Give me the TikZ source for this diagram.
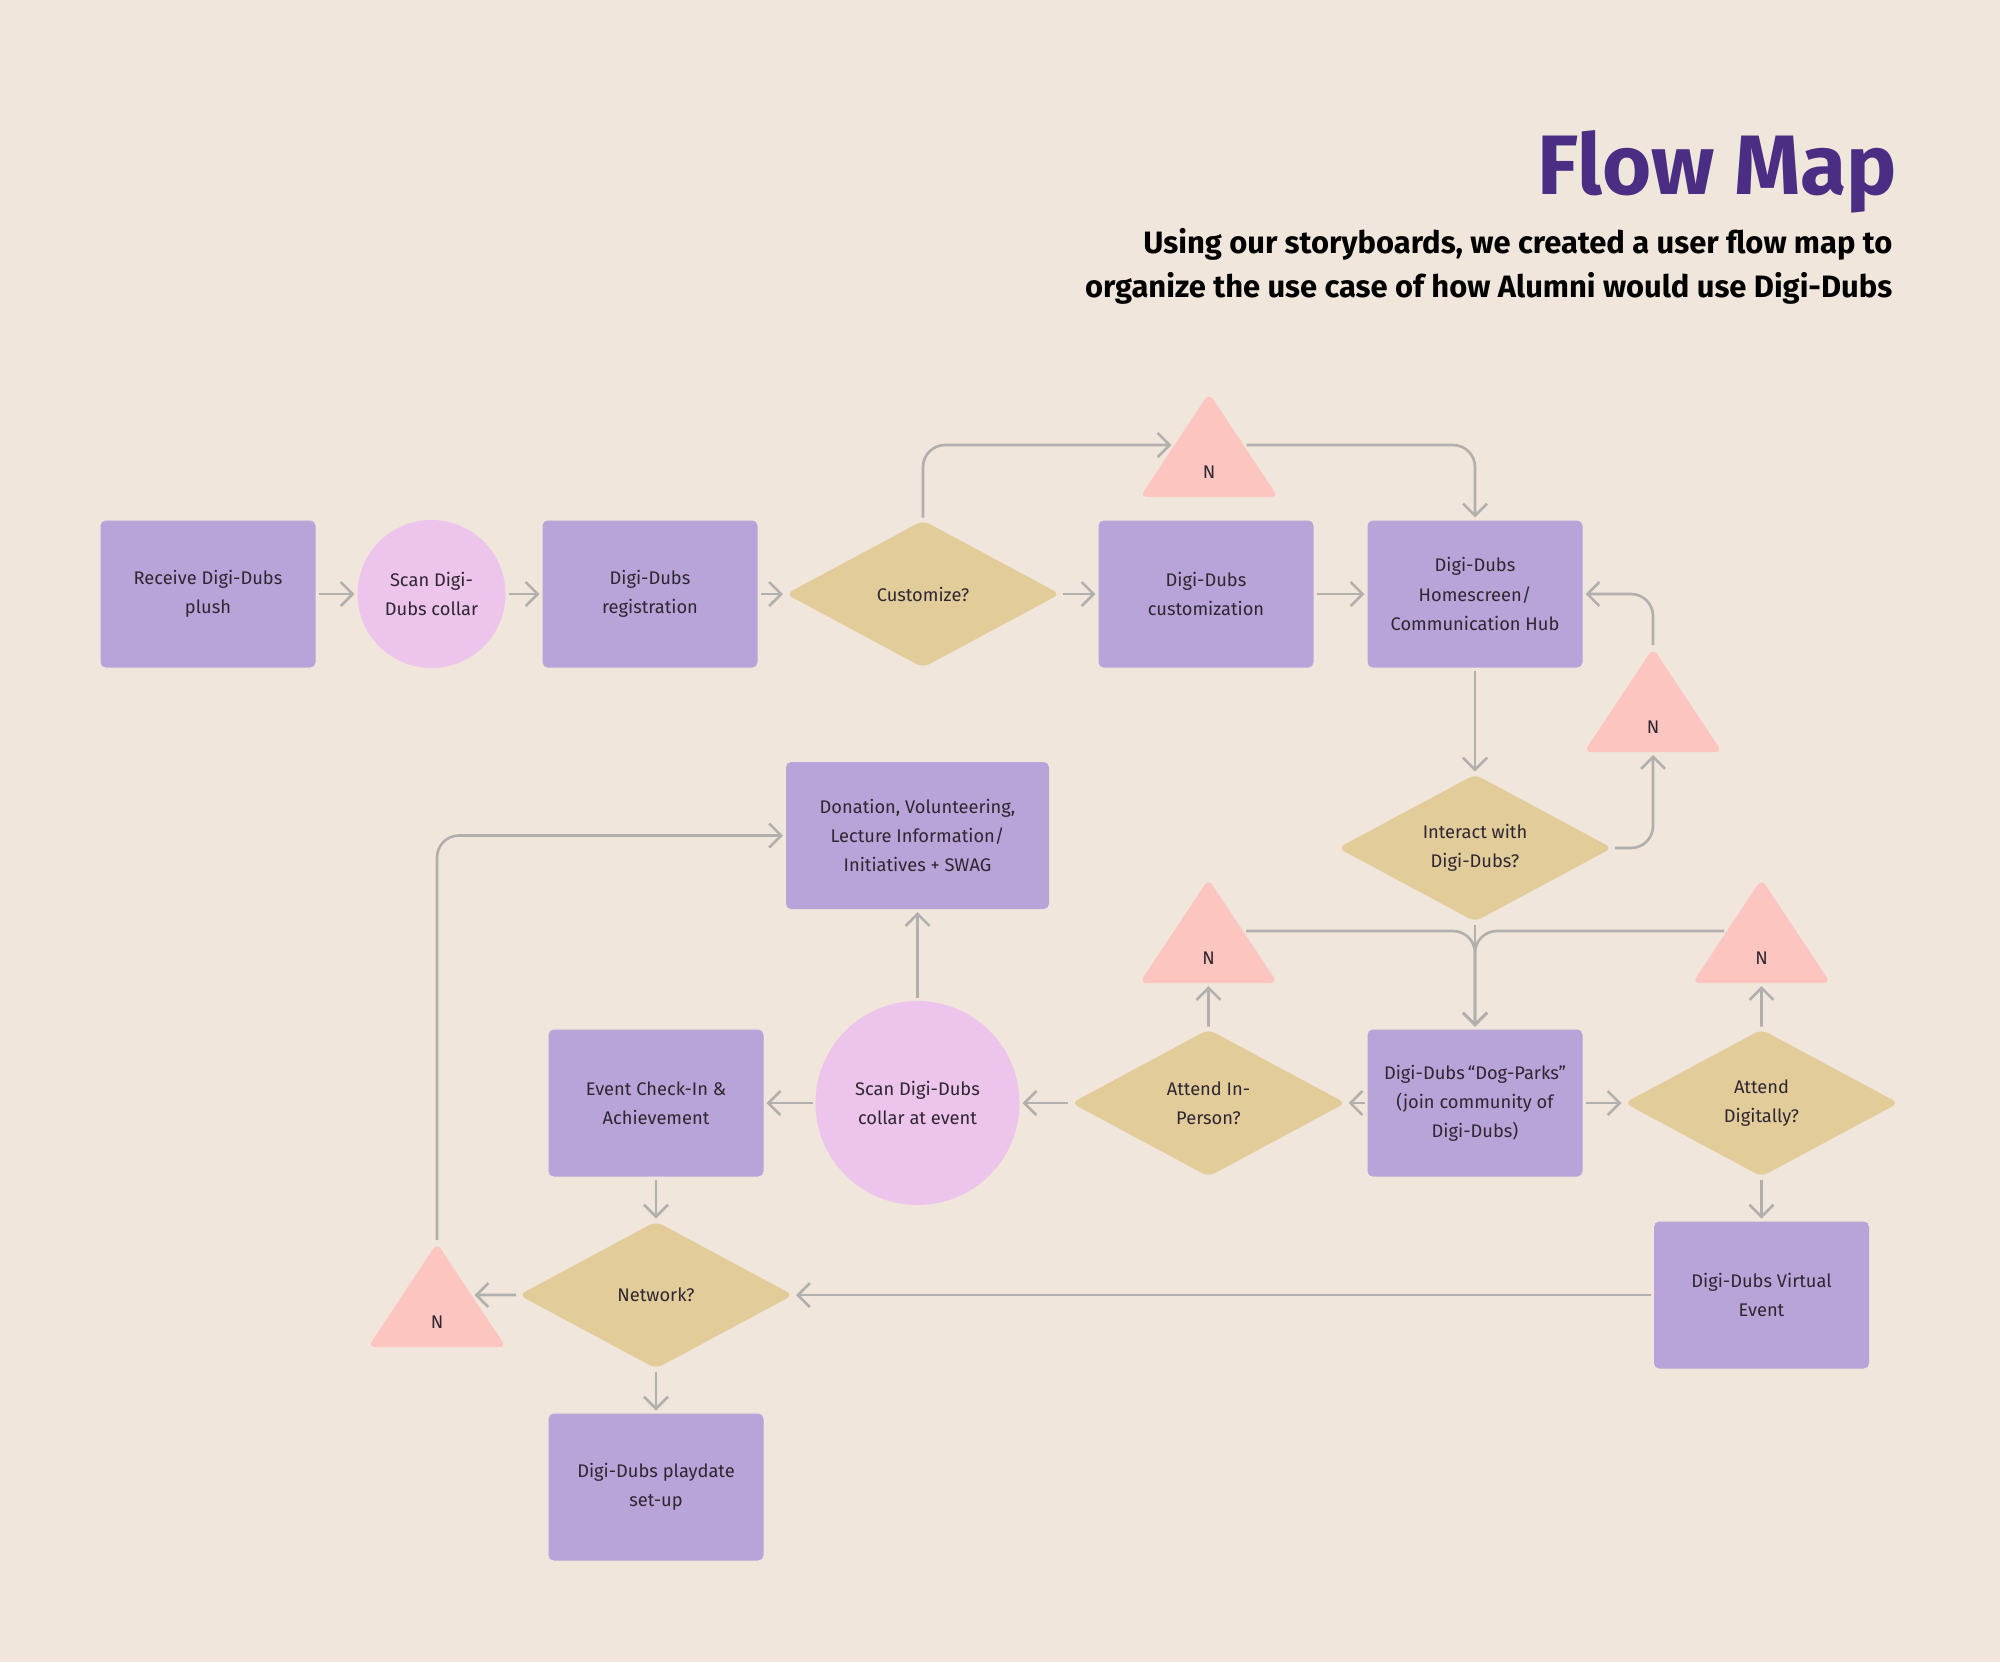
\documentclass[tikz,border=0pt]{standalone}
\usepackage{fontspec}
\setmainfont{Fira Sans}
\usetikzlibrary{shapes.geometric}
\usetikzlibrary{positioning}
\usetikzlibrary{arrows.meta}
\definecolor{paper}{HTML}{F0E6DB}
\definecolor{boxpurple}{HTML}{B8A4D8}
\definecolor{scanpink}{HTML}{ECC4EC}
\definecolor{choicetan}{HTML}{E2CC9A}
\definecolor{nopink}{HTML}{FDC5C0}
\definecolor{titlepurple}{HTML}{4B2D83}
\definecolor{wiregray}{HTML}{B2B0AE}
\definecolor{inkdark}{HTML}{2E2630}
\tikzstyle{nodetext} = [inner sep=0pt, outer sep=0pt, align=center, text=inkdark,
font=\fontsize{5.2}{8.3}\selectfont]
\tikzstyle{procbox} = [nodetext, rectangle, fill=boxpurple, rounded corners=1.5pt,
minimum width=2.15cm, minimum height=1.47cm]
\tikzstyle{scancirc} = [nodetext, circle, fill=scanpink, minimum size=1.48cm]
\tikzstyle{choice} = [nodetext, diamond, aspect=2, fill=choicetan, rounded corners=2pt,
minimum width=2.74cm, minimum height=1.47cm]
\tikzstyle{notri} = [nodetext, isosceles triangle, shape border rotate=90,
isosceles triangle stretches, fill=nopink, rounded corners=2pt,
minimum width=1.38cm, minimum height=1.04cm, text height=0.43cm]
\tikzstyle{flow} = [->, draw=wiregray, line width=0.75pt, rounded corners=0.22cm,
shorten <=0.03cm, shorten >=0.03cm]
\tikzstyle{heading} = [anchor=base east, inner sep=0pt, text=titlepurple,
font=\fontsize{24}{28}\selectfont\bfseries]
\tikzstyle{subheading} = [anchor=base east, inner sep=0pt, text=black,
font=\fontsize{8.8}{11}\selectfont\bfseries]
\tikzset{>={Straight Barb[length=1.2mm,width=2.4mm]}}
\newcommand{\joinflow}[3][]{ %
  % Join every node in #2 to every node in #3.
  \foreach \x in {#2} { %
    \foreach \y in {#3} { %
      \draw [flow,#1] (\x) -- (\y) ;%
    } ;
  } ;
}

\begin{document}
\begin{tikzpicture}
  \fill[paper] (0,0) rectangle (20,-16.62);
  \useasboundingbox (0,0) rectangle (20,-16.62);

  \node[heading] (title) at (18.98,-1.94) {Flow Map};
  \node[subheading] (sub1) at (18.93,-2.53) {Using our storyboards, we created a user flow map to};
  \node[subheading] (sub2) at (18.93,-2.97) {organize the use case of how Alumni would use Digi-Dubs};

  % sign-up row
  \node[procbox] (recv) at (2.08,-5.94) {Receive Digi-Dubs\\plush};
  \node[scancirc, right=0.42cm of recv] (scan) {Scan Digi-\\Dubs collar};
  \node[procbox, right=0.37cm of scan] (reg) {Digi-Dubs\\registration};
  \node[choice, right=0.285cm of reg] (cust) {Customize?};
  \node[procbox, right=0.385cm of cust] (custom) {Digi-Dubs\\customization};
  \node[procbox, right=0.54cm of custom] (home) {Digi-Dubs\\Homescreen/\\Communication Hub};
  \node[notri, above=0.235cm of custom, xshift=0.03cm, anchor=lower side] (nTop) {N};

  % hub and community
  \node[choice, below=1.07cm of home] (interact) {Interact with\\Digi-Dubs?};
  \node[notri, anchor=lower side] (nRight) at (16.53,-7.52) {N};
  \node[procbox, below=1.08cm of interact] (dog) {Digi-Dubs\,“Dog-Parks”\\(join community of\\Digi-Dubs)};
  \node[choice, left=0.22cm of dog] (inperson) {Attend In-\\Person?};
  \node[choice, right=0.42cm of dog] (digital) {Attend\\Digitally?};
  \node[notri, above=0.465cm of inperson, anchor=lower side] (nMidL) {N};
  \node[notri, above=0.465cm of digital, anchor=lower side] (nMidR) {N};

  % events
  \node[scancirc, left=0.52cm of inperson, minimum size=2.04cm] (scanEv) {Scan Digi-Dubs\\collar at event};
  \node[procbox, left=0.52cm of scanEv] (checkin) {Event Check-In \&\\Achievement};
  \node[procbox, above=0.92cm of scanEv, minimum width=2.63cm] (donation) {Donation, Volunteering,\\Lecture Information/\\Initiatives + SWAG};
  \node[choice, below=0.45cm of checkin] (network) {Network?};
  \node[procbox, below=0.45cm of network] (playdate) {Digi-Dubs playdate\\set-up};
  \node[notri, anchor=lower side] (nBL) at (4.37,-13.47) {N};
  \node[procbox, below=0.45cm of digital] (virtual) {Digi-Dubs Virtual\\Event};

  \joinflow{recv}{scan};
  \joinflow{scan}{reg};
  \joinflow{reg}{cust};
  \joinflow{cust}{custom};
  \joinflow{custom}{home};
  \draw[flow] (cust.north) |- (nTop.left side);
  \draw[flow] (nTop.right side) -| (home.north);
  \joinflow{home}{interact};
  \draw[flow] (interact.east) -| (nRight.lower side);
  \draw[flow] (nRight.apex) |- (home.east);
  \joinflow{interact}{dog};
  \draw[flow] (nMidL.right side) -| (dog.north);
  \draw[flow] (nMidR.left side) -| (dog.north);
  \joinflow{dog}{inperson,digital};
  \joinflow{inperson}{nMidL,scanEv};
  \joinflow{digital}{nMidR,virtual};
  \joinflow{scanEv}{checkin,donation};
  \joinflow{checkin}{network};
  \joinflow{network}{playdate};
  \draw[flow] (network.west) -- (nBL.right side);
  \joinflow{virtual}{network};
  \draw[flow] (nBL.apex) |- (donation.west);
\end{tikzpicture}
\end{document}
